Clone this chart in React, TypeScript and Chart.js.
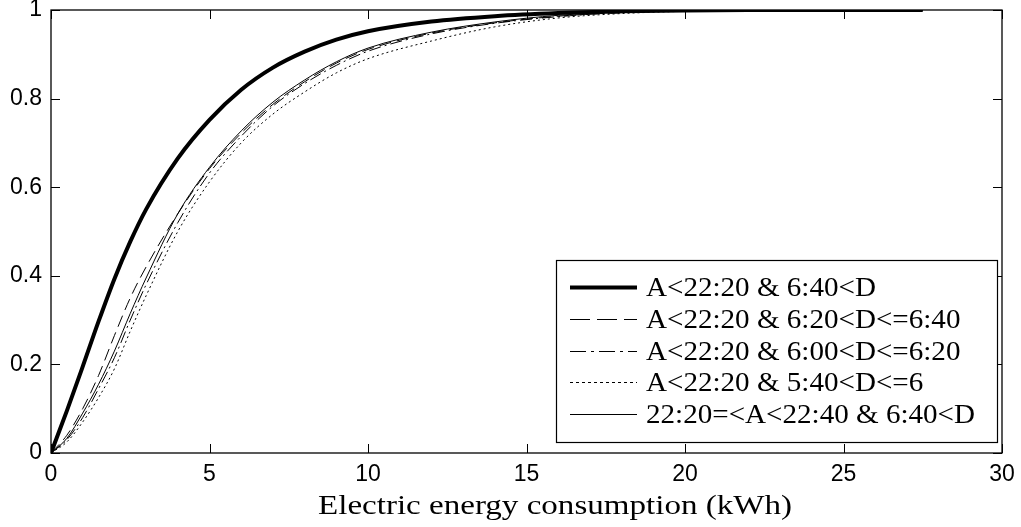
import { useEffect, useRef } from "react";
import { Chart, registerables } from "chart.js";

Chart.register(...registerables);

const xValues = [0, 0.5, 1, 1.5, 2, 2.5, 3, 4, 5, 6, 7, 8, 9, 10, 12, 14, 16, 18, 20, 22, 24, 26, 27.5];
const seriesLabels = [
  "A<22:20 & 6:40<D",
  "A<22:20 & 6:20<D<=6:40",
  "A<22:20 & 6:00<D<=6:20",
  "A<22:20 & 5:40<D<=6",
  "22:20=<A<22:40 & 6:40<D",
];
const seriesThick = [0, 0.095, 0.195, 0.297, 0.393, 0.477, 0.55, 0.665, 0.752, 0.82, 0.87, 0.906, 0.933, 0.952, 0.974, 0.986, 0.993, 0.997, 0.999, 1, 1, 1, 1];
const seriesDashed = [0, 0.04, 0.1, 0.175, 0.265, 0.35, 0.42, 0.54, 0.642, 0.722, 0.787, 0.838, 0.88, 0.911, 0.948, 0.971, 0.986, 0.994, 0.998, 0.999, 1, 1, 1];
const seriesDashDot = [0, 0.03, 0.08, 0.145, 0.215, 0.3, 0.38, 0.52, 0.632, 0.715, 0.783, 0.834, 0.875, 0.907, 0.946, 0.97, 0.985, 0.994, 0.998, 0.999, 1, 1, 1];
const seriesDotted = [0, 0.025, 0.07, 0.125, 0.19, 0.275, 0.355, 0.5, 0.612, 0.7, 0.765, 0.815, 0.858, 0.89, 0.93, 0.962, 0.982, 0.992, 0.997, 0.999, 1, 1, 1];
const seriesThin = [0, 0.033, 0.09, 0.155, 0.23, 0.315, 0.395, 0.54, 0.645, 0.727, 0.792, 0.842, 0.883, 0.914, 0.95, 0.973, 0.988, 0.995, 0.998, 1, 1, 1, 1];
const xTicks = [0, 5, 10, 15, 20, 25, 30];
const yTicks = [0, 0.2, 0.4, 0.6, 0.8, 1];
const yTickLabels = ["0", "0.2", "0.4", "0.6", "0.8", "1"];
const xTitle = "Electric energy consumption (kWh)";

const styles = [
  { width: 4, dash: [] as number[], legendDash: [] as number[] },
  { width: 1, dash: [12, 6], legendDash: [20, 7] },
  { width: 1, dash: [12, 4, 2, 4], legendDash: [16, 5, 3, 5] },
  { width: 1, dash: [2, 3], legendDash: [3, 3] },
  { width: 1, dash: [], legendDash: [] },
];

const SERIF = "'Liberation Serif', 'Times New Roman', serif";
const SANS = "'Liberation Sans', Arial, sans-serif";

function drawStretched(ctx: CanvasRenderingContext2D, text: string, x: number, y: number, targetW: number | null, scale: number | null) {
  const w = ctx.measureText(text).width;
  const sx = targetW ? targetW / w : scale || 1;
  ctx.save();
  ctx.translate(x, y);
  ctx.scale(sx, 1);
  ctx.fillText(text, 0, 0);
  ctx.restore();
}

const framePlugin = {
  id: "frame",
  afterDatasetsDraw(chart: any) {
    const { ctx, chartArea: a, scales } = chart;
    ctx.save();
    ctx.strokeStyle = "#000";
    ctx.lineWidth = 1.3;
    ctx.strokeRect(a.left, a.top, a.right - a.left, a.bottom - a.top);
    ctx.lineWidth = 1;
    const tl = 9;
    ctx.beginPath();
    for (const v of xTicks) {
      const px = Math.round(scales.x.getPixelForValue(v)) + 0.5;
      ctx.moveTo(px, a.bottom);
      ctx.lineTo(px, a.bottom - tl);
      ctx.moveTo(px, a.top);
      ctx.lineTo(px, a.top + tl);
    }
    for (const v of yTicks) {
      const py = Math.round(scales.y.getPixelForValue(v)) + 0.5;
      ctx.moveTo(a.left, py);
      ctx.lineTo(a.left + tl, py);
      ctx.moveTo(a.right, py);
      ctx.lineTo(a.right - tl, py);
    }
    ctx.stroke();
    ctx.restore();
  },
  afterDraw(chart: any) {
    const { ctx } = chart;
    ctx.save();
    // legend
    const bx = 556, by = 260, bw = 441, bh = 182;
    ctx.fillStyle = "#fff";
    ctx.fillRect(bx, by, bw, bh);
    ctx.strokeStyle = "#000";
    ctx.lineWidth = 1.2;
    ctx.strokeRect(bx + 0.5, by + 0.5, bw, bh);
    ctx.font = `27px ${SERIF}`;
    ctx.fillStyle = "#000";
    ctx.textBaseline = "alphabetic";
    ctx.textAlign = "left";
    const longest = seriesLabels.reduce((m, s) => Math.max(m, ctx.measureText(s).width), 0);
    const sx = 329 / longest;
    seriesLabels.forEach((label, i) => {
      const cy = by + 27 + i * 31.75;
      ctx.save();
      ctx.lineWidth = styles[i].width;
      ctx.setLineDash(styles[i].legendDash);
      ctx.beginPath();
      ctx.moveTo(570, Math.round(cy) + 0.5);
      ctx.lineTo(637, Math.round(cy) + 0.5);
      ctx.stroke();
      ctx.restore();
      drawStretched(ctx, label, 646, cy + 9, null, sx);
    });
    // x-axis title
    ctx.font = `27px ${SERIF}`;
    drawStretched(ctx, xTitle, 318, 514, 474, null);
    ctx.restore();
  },
};

export default function App() {
  const ref = useRef<HTMLCanvasElement | null>(null);
  useEffect(() => {
    if (!ref.current) return;
    const all = [seriesThick, seriesDashed, seriesDashDot, seriesDotted, seriesThin];
    const chart = new Chart(ref.current, {
      type: "line",
      data: {
        datasets: all.map((arr, i) => ({
          label: seriesLabels[i],
          data: xValues.map((x, j) => ({ x, y: arr[j] })),
          borderColor: "#000",
          backgroundColor: "#000",
          borderWidth: styles[i].width,
          borderDash: styles[i].dash,
          pointRadius: 0,
          fill: false,
          cubicInterpolationMode: "monotone" as const,
        })),
      },
      options: {
        animation: false,
        responsive: false,
        layout: { padding: { left: 0, top: 10, right: 19, bottom: 0 } },
        plugins: { legend: { display: false }, tooltip: { enabled: false } },
        scales: {
          x: {
            type: "linear",
            min: 0,
            max: 30,
            afterBuildTicks: (s: any) => {
              s.ticks = xTicks.map((v) => ({ value: v }));
            },
            afterFit: (s: any) => {
              s.height = 74;
              s.paddingLeft = 0;
              s.paddingRight = 0;
            },
            grid: { display: false, drawTicks: false },
            border: { display: false },
            ticks: {
              color: "#000",
              font: { family: SANS, size: 23 },
              padding: 8,
              maxRotation: 0,
              autoSkip: false,
            },
          },
          y: {
            type: "linear",
            min: 0,
            max: 1,
            afterBuildTicks: (s: any) => {
              s.ticks = yTicks.map((v) => ({ value: v }));
            },
            afterFit: (s: any) => {
              s.width = 51;
              s.paddingTop = 0;
              s.paddingBottom = 0;
            },
            grid: { display: false, drawTicks: false },
            border: { display: false },
            ticks: {
              color: "#000",
              font: { family: SANS, size: 23 },
              padding: 9,
              autoSkip: false,
              callback: (v: any) => yTickLabels[yTicks.indexOf(Number(v))] ?? String(v),
            },
          },
        },
      },
      plugins: [framePlugin],
    });
    return () => chart.destroy();
  }, []);
  return (
    <canvas
      ref={ref}
      width={1021}
      height={527}
      style={{ position: "absolute", left: 0, top: 0, display: "block", background: "#fff" }}
    />
  );
}
